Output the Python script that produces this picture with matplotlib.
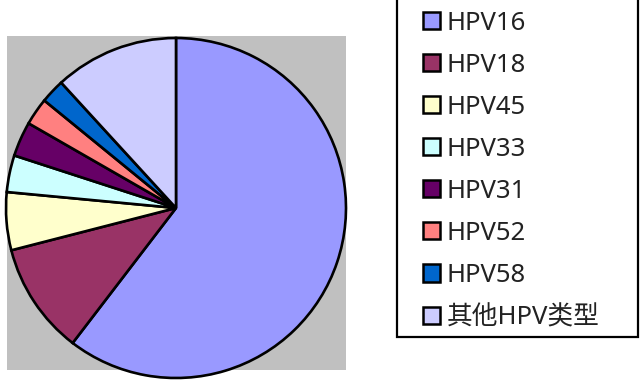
import matplotlib
matplotlib.use("Agg")
import matplotlib.pyplot as plt
from matplotlib.patches import Rectangle, Patch

plt.rcParams['font.family'] = ['Noto Sans', 'Noto Sans CJK SC', 'DejaVu Sans']

labels = ["HPV16", "HPV18", "HPV45", "HPV33", "HPV31", "HPV52", "HPV58", "其他HPV类型"]
shares = [60.4, 10.6, 5.5, 3.5, 3.3, 2.6, 2.3, 11.8]
colors = ["#9999FF", "#993366", "#FFFFCC", "#CCFFFF", "#660066", "#FF8080", "#0066CC", "#CCCCFF"]

W, H = 641, 382
fig = plt.figure(figsize=(W / 100, H / 100), dpi=100)


def px(x0, y0, x1, y1):
    # pixel box (origin top-left) -> figure fraction [left, bottom, width, height]
    return [x0 / W, 1 - y1 / H, (x1 - x0) / W, (y1 - y0) / H]


# grey plot area behind the pie
l, b, w, h = px(7, 36, 346, 370)
fig.patches.append(Rectangle((l, b), w, h, transform=fig.transFigure,
                             facecolor="#C0C0C0", edgecolor="none", zorder=-2))

# legend box
l, b, w, h = px(397, -2, 638, 337)
fig.patches.append(Rectangle((l, b), w, h, transform=fig.transFigure,
                             facecolor="white", edgecolor="black", linewidth=1.6, zorder=-2))

ax = fig.add_axes(px(4, 36, 348, 380))
wedges, _ = ax.pie(shares, colors=colors, startangle=90, counterclock=False,
                   wedgeprops=dict(edgecolor="black", linewidth=1.9))
lim = 172 / 170
ax.set_xlim(-lim, lim)
ax.set_ylim(-lim, lim)
ax.set_aspect("equal")
ax.axis("off")

handles = [Patch(facecolor=c, edgecolor="black", linewidth=1.8) for c in colors]
leg = fig.legend(handles, labels, loc="upper left",
                 bbox_to_anchor=(423 / W, 1 - 10.5 / H),
                 frameon=False, fontsize=18.5, handlelength=0.65, handleheight=0.65,
                 handletextpad=0.28, labelspacing=0.665, borderpad=0, borderaxespad=0)
for t in leg.get_texts():
    t.set_color("#222222")

fig.savefig("out.png", dpi=100)
